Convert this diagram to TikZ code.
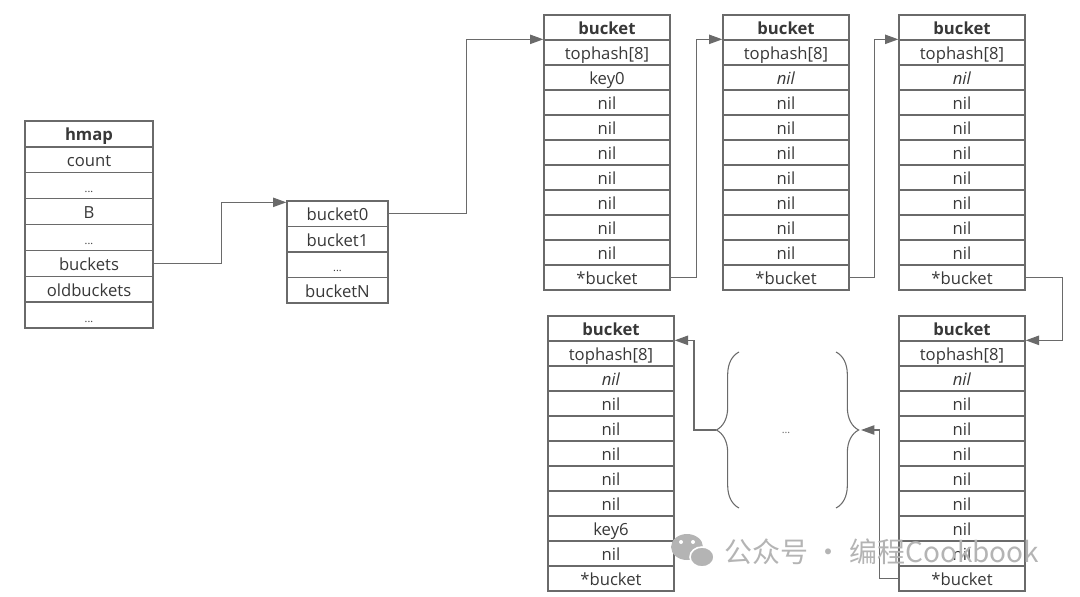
\documentclass[tikz,border=0pt]{standalone}
\usepackage{fontspec}
\setmainfont{Open Sans}
\newfontfamily\cjkfont{Noto Sans CJK SC}
\usetikzlibrary{arrows.meta,decorations.pathreplacing}
\definecolor{linegray}{HTML}{6A6A6A}
\definecolor{textgray}{HTML}{383838}
\definecolor{markgray}{HTML}{B4B4B4}
\newcommand\gapdots{{\fontsize{8}{9}\selectfont ...}}
\tikzset{
  cell/.style={draw=linegray, line width=1pt, text=textgray, inner sep=0pt,
    minimum width=94.5pt, minimum height=18.75pt, text height=10.5pt, text depth=0pt,
    font=\fontsize{12.5}{14}\selectfont},
  head/.style={cell, font=\fontsize{12.5}{14}\selectfont\bfseries},
  hcell/.style={cell, minimum width=96pt, minimum height=19.4pt},
  acell/.style={cell, minimum width=75.75pt, minimum height=19.125pt},
  link/.style={draw=linegray, line width=1pt, -{Triangle[length=10pt,width=7pt]}},
  curly/.style={draw=linegray, line width=0.8pt, decorate, decoration={brace, amplitude=17pt}},
}
\begin{document}
\begin{tikzpicture}[x=0.75pt,y=-0.75pt]
  \useasboundingbox (0,0) rectangle (1080,596);
  % hmap
  \node[hcell, font=\fontsize{12.5}{14}\selectfont\bfseries] (h0) at (89,133.9) {hmap};
  \foreach \t [count=\i] in {count,\gapdots,B,\gapdots,buckets,oldbuckets,\gapdots}
    \node[hcell] (h\i) at (89,133.9+25.875*\i) {\t};
  % bucket array
  \foreach \t [count=\i from 0] in {bucket0,bucket1,\gapdots,bucketN}
    \node[acell] (a\i) at (337.5,213.75+25.5*\i) {\t};
  % buckets
  \node[head] (b1r0) at (607,27.5) {bucket};
  \foreach \t [count=\i] in {tophash[8],key0,nil,nil,nil,nil,nil,nil,nil,*bucket}
    \node[cell] (b1r\i) at (607,27.5+25*\i) {\t};
  \node[head] (b2r0) at (786,27.5) {bucket};
  \foreach \t [count=\i] in {tophash[8],\textit{nil},nil,nil,nil,nil,nil,nil,nil,*bucket}
    \node[cell] (b2r\i) at (786,27.5+25*\i) {\t};
  \node[head] (b3r0) at (962,27.5) {bucket};
  \foreach \t [count=\i] in {tophash[8],\textit{nil},nil,nil,nil,nil,nil,nil,nil,*bucket}
    \node[cell] (b3r\i) at (962,27.5+25*\i) {\t};
  \node[head] (b4r0) at (611,328.5) {bucket};
  \foreach \t [count=\i] in {tophash[8],\textit{nil},nil,nil,nil,nil,nil,key6,nil,*bucket}
    \node[cell] (b4r\i) at (611,328.5+25*\i) {\t};
  \node[head] (b5r0) at (962,328.5) {bucket};
  \foreach \t [count=\i] in {tophash[8],\textit{nil},nil,nil,nil,nil,nil,nil,nil,*bucket}
    \node[cell] (b5r\i) at (962,328.5+25*\i) {\t};
  % omitted buckets
  \draw[curly] (739,508) -- (739,352);
  \draw[curly] (836,352) -- (836,508);
  \coordinate (ltip) at (716,430);
  \coordinate (rtip) at (861,430);
  \node[text=linegray, font=\fontsize{8}{9}\selectfont] (mid) at (786,433) {...};
  % links
  \draw[link] (h5.east) -- ++(68,0) |- ([yshift=-1.5pt]a0.north west);
  \draw[link] (a0.east) -- ++(78,0) |- (b1r1.north west);
  \draw[link] (b1r10.east) -- ++(26,0) |- (b2r1.north west);
  \draw[link] (b2r10.east) -- ++(25,0) |- (b3r1.north west);
  \draw[link] (b3r10.east) -- ++(37,0) |- (b5r1.north east);
  \draw[link] (b5r10.west) -- ++(-19,0) |- (rtip);
  \draw[link] (ltip) -- ++(-22,0) |- (b4r1.north east);
  % watermark
  \fill[markgray] (687,547) ellipse [x radius=16, y radius=13];
  \fill[markgray, draw=white, line width=1.2pt] (702,557) ellipse [x radius=12, y radius=10];
  \fill[white] (681,542) circle [radius=2] (693,542) circle [radius=2];
  \node[text=markgray, anchor=west, font=\cjkfont\fontsize{21}{24}\selectfont] (mark) at (720,552) {公众号 · 编程Cookbook};
\end{tikzpicture}
\end{document}
